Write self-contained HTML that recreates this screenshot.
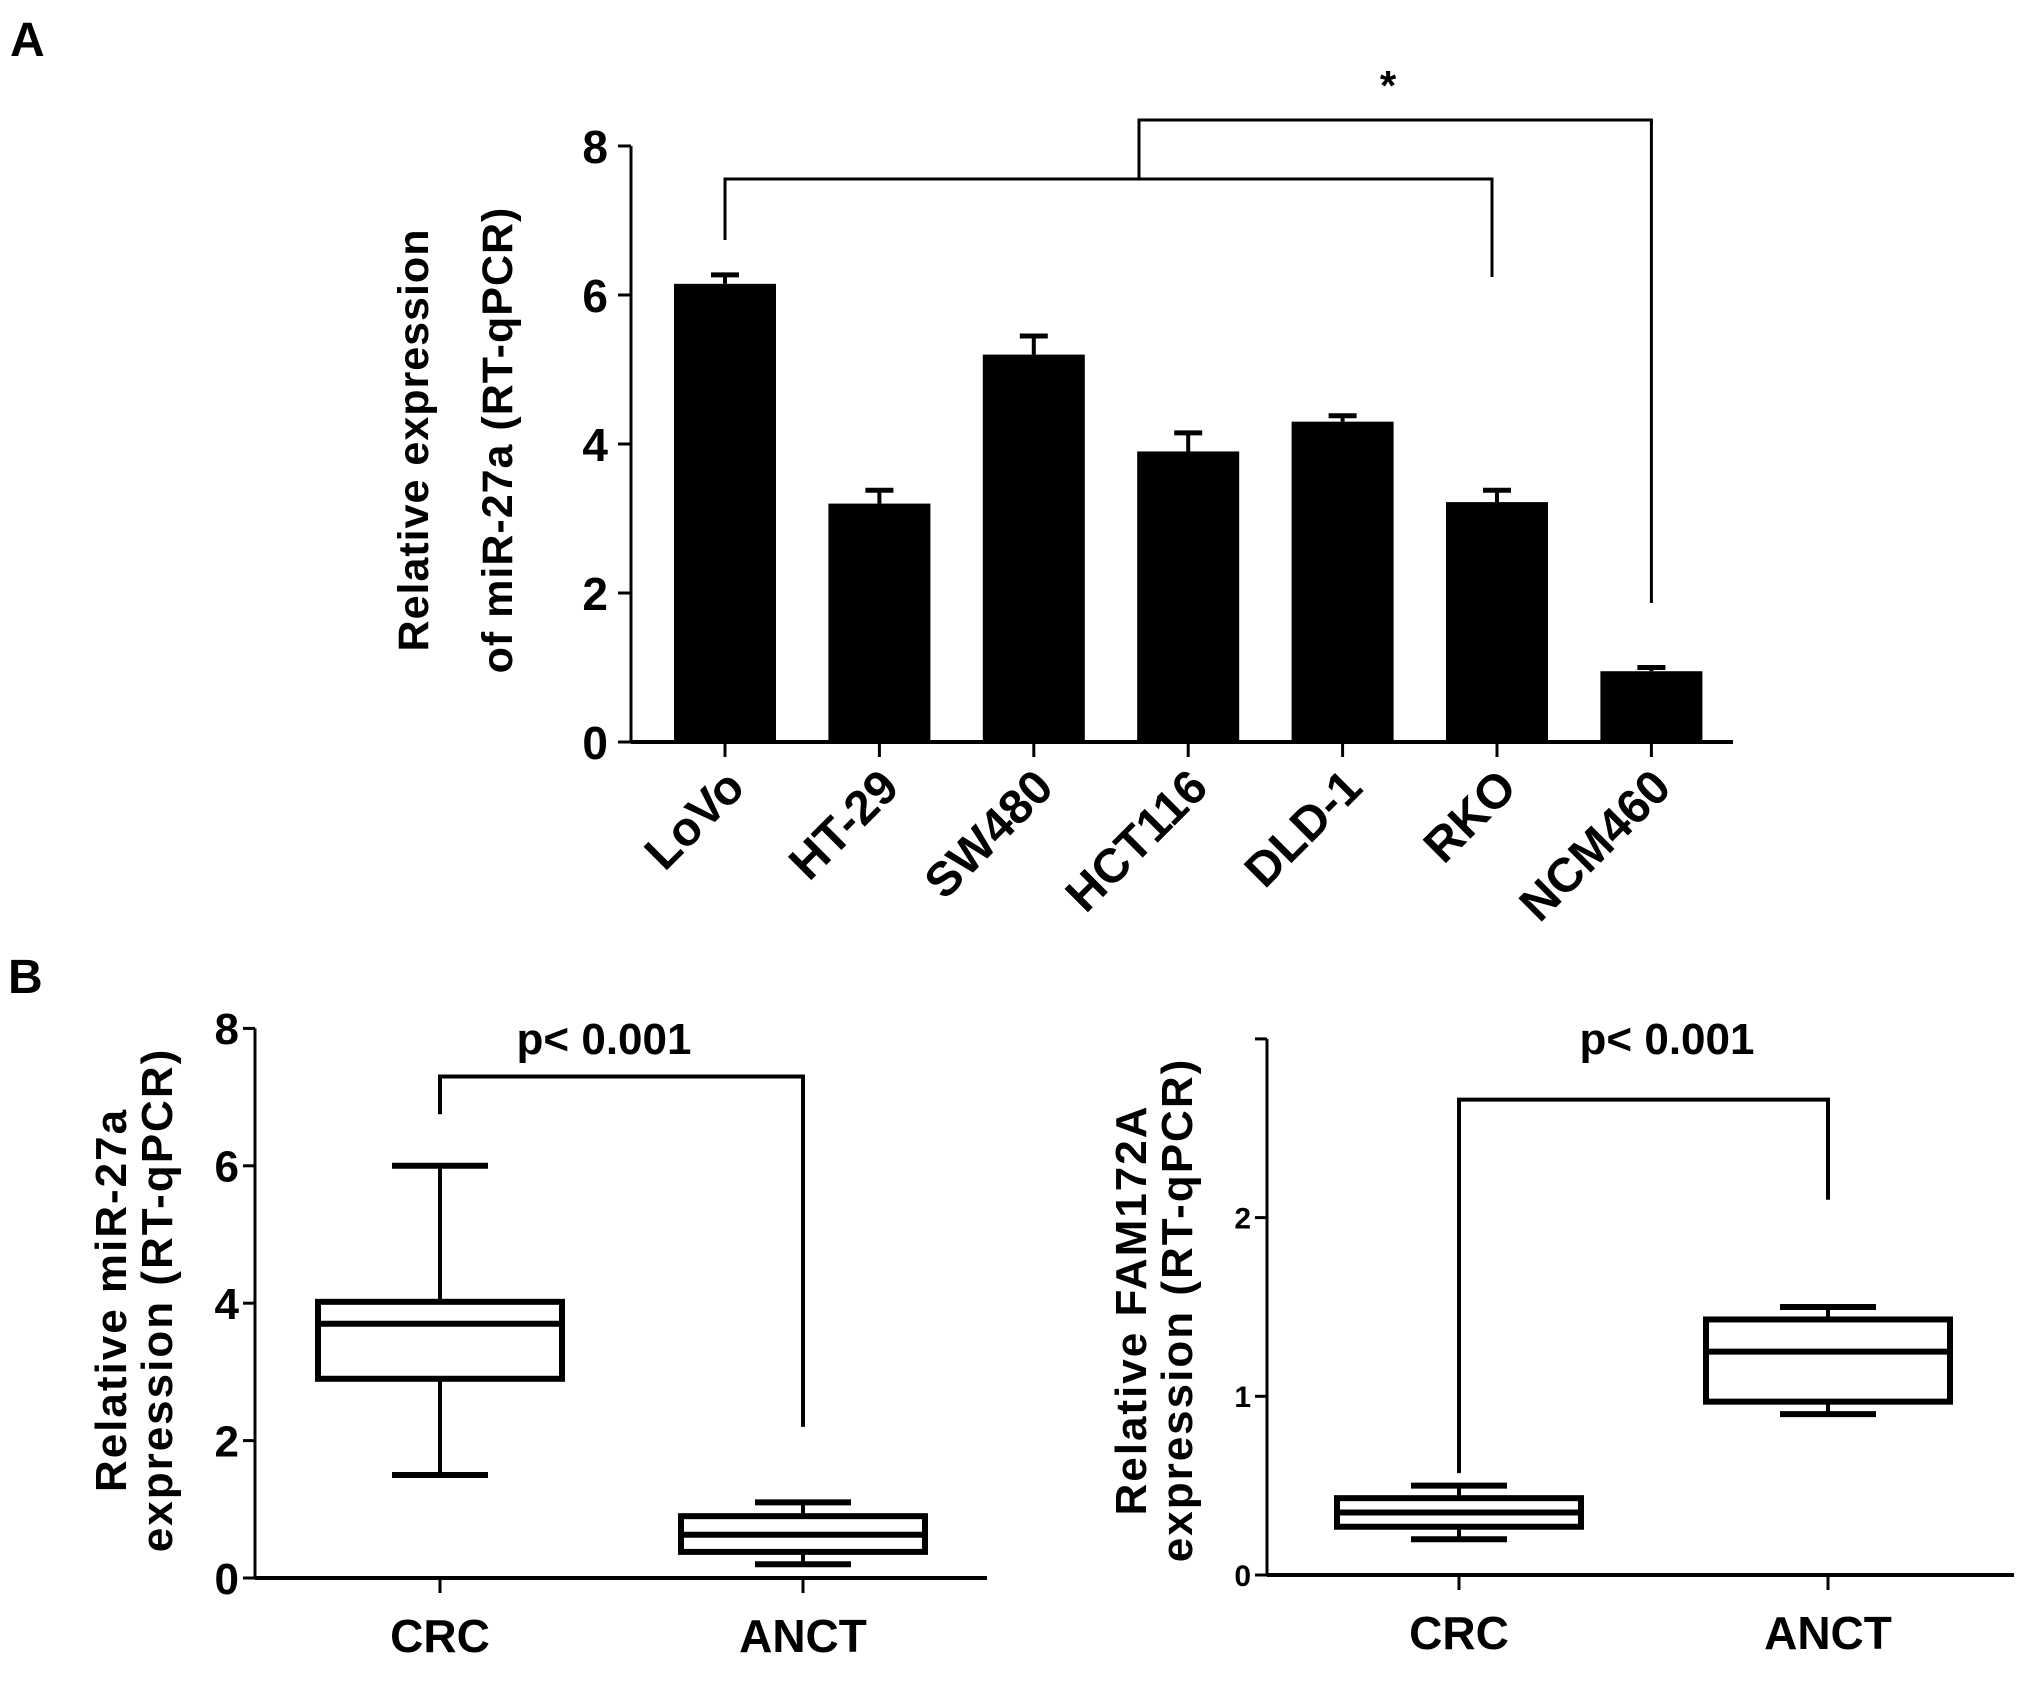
<!DOCTYPE html>
<html><head><meta charset="utf-8"><style>
html,body{margin:0;padding:0;background:#fff}
svg{display:block;font-family:"Liberation Sans",Arial,sans-serif;font-weight:bold}
</style></head><body>
<svg id="fig" width="2031" height="1688" viewBox="0 0 2031 1688" xmlns="http://www.w3.org/2000/svg">
<text x="10" y="56" font-size="48">A</text>
<text x="8" y="993" font-size="48">B</text>
<g id="pa"></g>
<g id="pb1"></g>
<g id="pb2"></g>
</svg>
<script>
const barCategories=["LoVo","HT-29","SW480","HCT116","DLD-1","RKO","NCM460"];
const barValues=[6.15,3.2,5.2,3.9,4.3,3.22,0.95];
const barErrors=[0.12,0.18,0.25,0.25,0.08,0.16,0.05];
const barTicks=[0,2,4,6,8];
const boxCategories=["CRC","ANCT"];
const mirWhiskerLow=[1.5,0.2];
const mirQ1=[2.9,0.38];
const mirMedian=[3.7,0.63];
const mirQ3=[4.02,0.9];
const mirWhiskerHigh=[6.0,1.1];
const mirTicks=[0,2,4,6,8];
const famWhiskerLow=[0.2,0.9];
const famQ1=[0.27,0.97];
const famMedian=[0.35,1.25];
const famQ3=[0.43,1.43];
const famWhiskerHigh=[0.5,1.5];
const famTicks=[0,1,2,3];
const famTickLabels=["0","1","2",""];

const NS="http://www.w3.org/2000/svg";
function mk(parent,tag,attrs,text){const e=document.createElementNS(NS,tag);for(const k in attrs)e.setAttribute(k,attrs[k]);if(text!==undefined)e.textContent=text;parent.appendChild(e);return e;}
function ln(p,x1,y1,x2,y2,w){return mk(p,'line',{x1,y1,x2,y2,stroke:'#000','stroke-width':w||4});}

// ---------- Panel A ----------
(function(){
 const g=document.getElementById('pa');
 const y=v=>742-v*74.5;
 const x=i=>725+i*154.4;
 let e=ln(g,631,146,631,742,3);
 
 e=ln(g,631,742,1733,742,4);
 
 barTicks.forEach(t=>{
  let tk=ln(g,618,y(t),631,y(t),3);
  
  let tl=mk(g,'text',{x:608,y:y(t)+17,'font-size':46,'text-anchor':'end'},String(t));
  
 });
 barCategories.forEach((c,i)=>{
  const cx=x(i),v=barValues[i],top=v+barErrors[i];
  let b=mk(g,'rect',{x:cx-51,y:y(v),width:102,height:y(0)-y(v),fill:'#000'});
  
  let el=ln(g,cx,y(v),cx,y(top),4);
  
  let ec=ln(g,cx-14,y(top),cx+14,y(top),5);
  
  let tk=ln(g,cx,742,cx,757,3);
  
  let tl=mk(g,'text',{x:0,y:0,'font-size':48,'text-anchor':'end',transform:`translate(${cx+22},${790}) rotate(-45)`},c);
  
 });
 const br=mk(g,'path',{d:`M${x(0)},240 V179 H${x(5)-5} V277`,fill:'none',stroke:'#000','stroke-width':3});
 
 const br2=mk(g,'path',{d:`M1139,179 V120 H${x(6)} V603`,fill:'none',stroke:'#000','stroke-width':3});
 
 const st=mk(g,'text',{x:1388,y:100,'font-size':42,'text-anchor':'middle'},'*');
 
 const yt=mk(g,'text',{'font-size':43,'text-anchor':'middle','letter-spacing':'1',transform:'translate(428,440) rotate(-90)'});
 
 mk(yt,'tspan',{x:0,dy:0},'Relative expression');
 mk(yt,'tspan',{x:0,dy:84},'of miR-27a (RT-qPCR)');
})();

function boxplot(gid,o){
 const g=document.getElementById(gid);
 const y=v=>o.y0-v*o.unit;
 let e=ln(g,o.ax,y(o.ticks[o.ticks.length-1]),o.ax,o.y0,3);
 
 e=ln(g,o.ax,o.y0,o.axEnd,o.y0,4);
 
 o.ticks.forEach((t,i)=>{
  let tk=ln(g,o.ax-12,y(t),o.ax,y(t),3);
  
  let tl=mk(g,'text',{x:o.ax-16,y:y(t)+o.tfs*0.36,'font-size':o.tfs,'text-anchor':'end'},o.tl[i]);
  
 });
 boxCategories.forEach((c,i)=>{
  const cx=o.cx[i],hw=122,cw=48;
  let w=ln(g,cx,y(o.wl[i]),cx,y(o.wh[i]),4);
  
  let c1=ln(g,cx-cw,y(o.wl[i]),cx+cw,y(o.wl[i]),6);
  
  let c2=ln(g,cx-cw,y(o.wh[i]),cx+cw,y(o.wh[i]),6);
  
  let b=mk(g,'rect',{x:cx-hw,y:y(o.q3[i]),width:hw*2,height:y(o.q1[i])-y(o.q3[i]),fill:'#fff',stroke:'#000','stroke-width':6});
  
  let m=ln(g,cx-hw,y(o.med[i]),cx+hw,y(o.med[i]),6);
  
  let tk=ln(g,cx,o.y0,cx,o.y0+15,3);
  
  let tl=mk(g,'text',{x:cx,y:o.y0+74,'font-size':46,'text-anchor':'middle'},c);
  
 });
 const br=mk(g,'path',{d:`M${o.cx[0]},${y(o.bl)} V${y(o.bt)} H${o.cx[1]} V${y(o.brr)}`,fill:'none',stroke:'#000','stroke-width':4});
 
 const pv=mk(g,'text',{x:o.px,y:1054,'font-size':44,'text-anchor':'middle'},'p< 0.001');
 
 const yt=mk(g,'text',{'font-size':44,'text-anchor':'middle','letter-spacing':'2',transform:`translate(${o.tx},${o.ty}) rotate(-90)`});
 
 mk(yt,'tspan',{x:0,dy:0},o.t1);
 mk(yt,'tspan',{x:0,dy:46},o.t2);
}
boxplot('pb1',{p:'b1',ax:255,axEnd:987,y0:1578,unit:68.7,ticks:mirTicks,tl:mirTicks.map(String),tfs:44,
 cx:[440,803],wl:mirWhiskerLow,q1:mirQ1,med:mirMedian,q3:mirQ3,wh:mirWhiskerHigh,
 bl:6.75,bt:7.3,brr:2.2,px:604,tx:126,ty:1300,t1:'Relative miR-27a',t2:'expression (RT-qPCR)'});
boxplot('pb2',{p:'b2',ax:1267,axEnd:2014,y0:1575,unit:178.7,ticks:famTicks,tl:famTickLabels,tfs:30,
 cx:[1459,1828],wl:famWhiskerLow,q1:famQ1,med:famMedian,q3:famQ3,wh:famWhiskerHigh,
 bl:0.57,bt:2.66,brr:2.1,px:1667,tx:1146,ty:1310,t1:'Relative FAM172A',t2:'expression (RT-qPCR)'});
</script>
</body></html>
